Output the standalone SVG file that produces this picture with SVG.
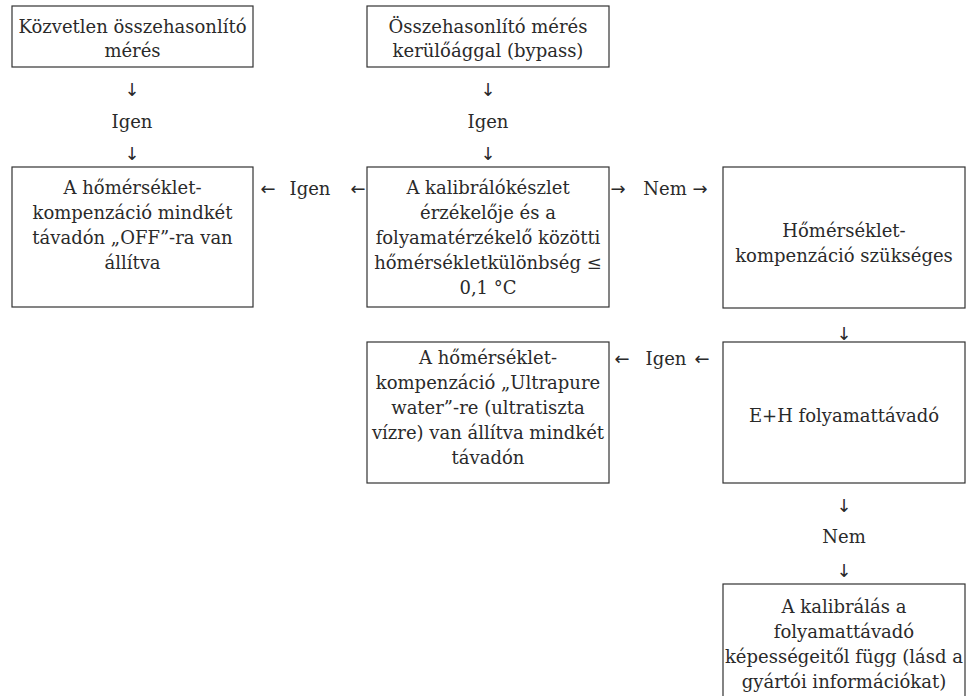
<svg xmlns="http://www.w3.org/2000/svg" width="972" height="696" viewBox="0 0 972 696">
<style>
text{font-family:"DejaVu Serif",serif;font-size:18px;fill:#2a2a2a;text-anchor:middle}
text.ar{font-family:"DejaVu Sans",sans-serif;font-size:18px}
.box{fill:#fff;stroke:#333;stroke-width:1.2}
</style>
<rect width="972" height="696" fill="#fff"/>
<g id="n1"><rect class="box" x="12" y="6" width="241" height="61"/>
<text x="132.5" y="33">Közvetlen összehasonlító</text><text x="132.5" y="57">mérés</text></g>
<g id="n2"><rect class="box" x="367" y="6" width="242" height="61"/>
<text x="488" y="33">Összehasonlító mérés</text><text x="488" y="57">kerülőággal (bypass)</text></g>
<g id="n3"><rect class="box" x="12" y="167" width="241" height="140"/>
<text x="132.5" y="194">A hőmérséklet-</text><text x="132.5" y="219">kompenzáció mindkét</text><text x="132.5" y="244">távadón „OFF”-ra van</text><text x="132.5" y="269">állítva</text></g>
<g id="n4"><rect class="box" x="367" y="167" width="242" height="140"/>
<text x="488" y="194">A kalibrálókészlet</text><text x="488" y="219">érzékelője és a</text><text x="488" y="244">folyamatérzékelő közötti</text><text x="488" y="269">hőmérsékletkülönbség ≤</text><text x="488" y="294">0,1 °C</text></g>
<g id="n5"><rect class="box" x="723" y="167" width="242" height="141"/>
<text x="844" y="237">Hőmérséklet-</text><text x="844" y="262">kompenzáció szükséges</text></g>
<g id="n6"><rect class="box" x="367" y="342" width="242" height="141"/>
<text x="488" y="364">A hőmérséklet-</text><text x="488" y="389">kompenzáció „Ultrapure</text><text x="488" y="414">water”-re (ultratiszta</text><text x="488" y="439">vízre) van állítva mindkét</text><text x="488" y="464">távadón</text></g>
<g id="n7"><rect class="box" x="723" y="342" width="242" height="141"/>
<text x="844" y="422">E+H folyamattávadó</text></g>
<g id="n8"><rect class="box" x="723" y="584" width="242" height="120"/>
<text x="844" y="613">A kalibrálás a</text><text x="844" y="638">folyamattávadó</text><text x="844" y="663">képességeitől függ (lásd a</text><text x="844" y="688">gyártói információkat)</text></g>
<g id="connectors">
<text class="ar" x="132" y="96">↓</text><text x="132" y="128">Igen</text><text class="ar" x="132" y="160">↓</text>
<text class="ar" x="488" y="96">↓</text><text x="488" y="128">Igen</text><text class="ar" x="488" y="160">↓</text>
<text class="ar" x="268" y="195">←</text><text x="310" y="195">Igen</text><text class="ar" x="358" y="195">←</text>
<text class="ar" x="618" y="195">→</text><text x="665" y="195">Nem</text><text class="ar" x="700" y="195">→</text>
<text class="ar" x="844" y="340">↓</text>
<text class="ar" x="622" y="365">←</text><text x="666" y="365">Igen</text><text class="ar" x="702" y="365">←</text>
<text class="ar" x="844" y="512">↓</text><text x="844" y="543">Nem</text><text class="ar" x="844" y="577">↓</text>
</g>
</svg>
